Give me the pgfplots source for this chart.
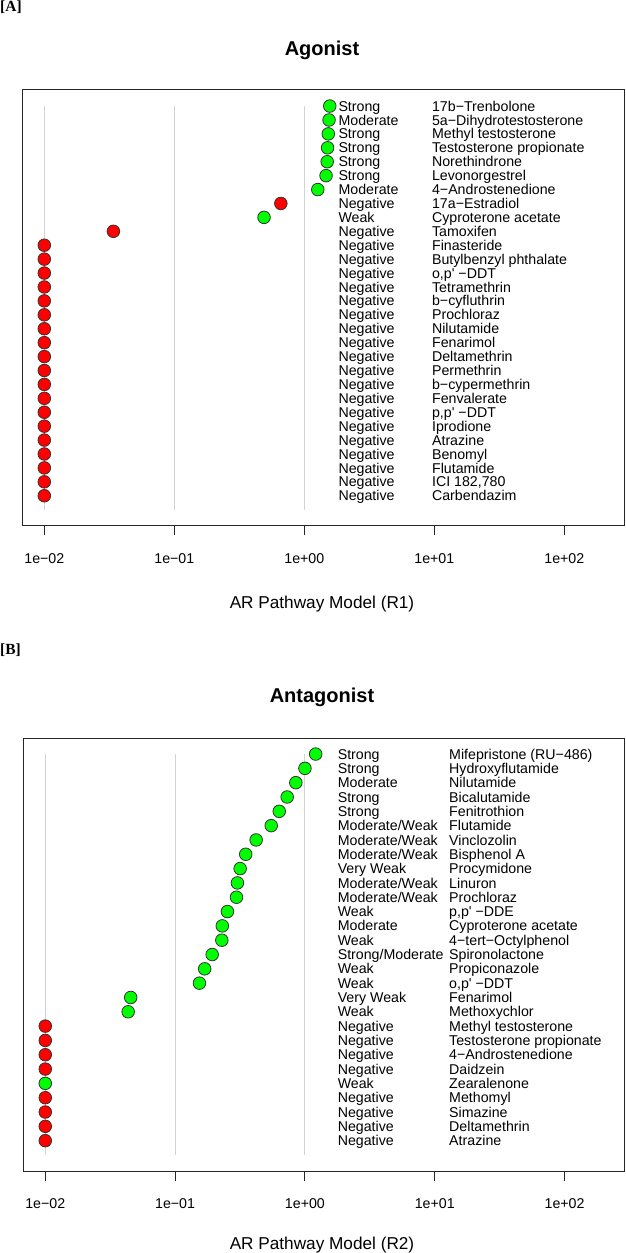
\documentclass[border=0pt]{standalone}
\usepackage{fontspec}
\setmainfont{Liberation Sans}
\newfontfamily\arial{Liberation Sans}
\newfontfamily\tnr{Liberation Serif}
\usepackage{pgfplots}
\pgfplotsset{compat=1.18}
\usepackage{pgfplotstable}

\definecolor{ptgreen}{RGB}{0,255,0}
\definecolor{ptred}{RGB}{255,0,0}
\definecolor{gridgray}{RGB}{211,211,211}

% y = row position (top row highest), val = model score, col = g/r
\pgfplotstableread[col sep=semicolon]{
y;val;col;status;name
29;1.57;g;Strong;17b−Trenbolone
28;1.55;g;Moderate;5a−Dihydrotestosterone
27;1.53;g;Strong;Methyl testosterone
26;1.51;g;Strong;Testosterone propionate
25;1.50;g;Strong;Norethindrone
24;1.47;g;Strong;Levonorgestrel
23;1.27;g;Moderate;4−Androstenedione
22;0.66;r;Negative;17a−Estradiol
21;0.49;g;Weak;Cyproterone acetate
20;0.034;r;Negative;Tamoxifen
19;0.01;r;Negative;Finasteride
18;0.01;r;Negative;Butylbenzyl phthalate
17;0.01;r;Negative;o,p' −DDT
16;0.01;r;Negative;Tetramethrin
15;0.01;r;Negative;b−cyfluthrin
14;0.01;r;Negative;Prochloraz
13;0.01;r;Negative;Nilutamide
12;0.01;r;Negative;Fenarimol
11;0.01;r;Negative;Deltamethrin
10;0.01;r;Negative;Permethrin
9;0.01;r;Negative;b−cypermethrin
8;0.01;r;Negative;Fenvalerate
7;0.01;r;Negative;p,p' −DDT
6;0.01;r;Negative;Iprodione
5;0.01;r;Negative;Atrazine
4;0.01;r;Negative;Benomyl
3;0.01;r;Negative;Flutamide
2;0.01;r;Negative;ICI 182,780
1;0.01;r;Negative;Carbendazim
}\tabA

\pgfplotstableread[col sep=semicolon]{
y;val;col;status;name
28;1.21;g;Strong;Mifepristone (RU−486)
27;1.00;g;Strong;Hydroxyflutamide
26;0.851;g;Moderate;Nilutamide
25;0.730;g;Strong;Bicalutamide
24;0.634;g;Strong;Fenitrothion
23;0.550;g;Moderate/Weak;Flutamide
22;0.421;g;Moderate/Weak;Vinclozolin
21;0.350;g;Moderate/Weak;Bisphenol A
20;0.317;g;Very Weak;Procymidone
19;0.302;g;Moderate/Weak;Linuron
18;0.297;g;Moderate/Weak;Prochloraz
17;0.253;g;Weak;p,p' −DDE
16;0.231;g;Moderate;Cyproterone acetate
15;0.229;g;Weak;4−tert−Octylphenol
14;0.193;g;Strong/Moderate;Spironolactone
13;0.169;g;Weak;Propiconazole
12;0.154;g;Weak;o,p' −DDT
11;0.0455;g;Very Weak;Fenarimol
10;0.0435;g;Weak;Methoxychlor
9;0.01;r;Negative;Methyl testosterone
8;0.01;r;Negative;Testosterone propionate
7;0.01;r;Negative;4−Androstenedione
6;0.01;r;Negative;Daidzein
5;0.01;g;Weak;Zearalenone
4;0.01;r;Negative;Methomyl
3;0.01;r;Negative;Simazine
2;0.01;r;Negative;Deltamethrin
1;0.01;r;Negative;Atrazine
}\tabB

\begin{document}
\begin{tikzpicture}
\useasboundingbox (0pt,0pt) rectangle (625pt,-1253pt);

% ---- panel A
\node[anchor=west, inner sep=0pt, font=\tnr\bfseries\fontsize{15.5}{17}\selectfont] at (0pt,-7.5pt) {[A]};
\node[anchor=base, font=\arial\bfseries\fontsize{20}{24}\selectfont] at (322pt,-55.5pt) {Agonist};
\node[anchor=base, font=\arial\fontsize{17.2}{20}\selectfont] at (322pt,-608pt) {AR Pathway Model (R1)};

\begin{axis}[scale only axis, anchor=north west, at={(22.3pt,-89.9pt)},
    width=602pt, height=435.9pt, ymin=-1.16, ymax=30.16,
    xmode=log, xmin=0.006773, xmax=289.4,
    xtick={0.01,0.1,1,10,100},
    xticklabels={1e−02,1e−01,1e+00,1e+01,1e+02},
    minor tick length=0pt,
    xtick pos=left, xtick align=outside,
    major tick length=9.5pt, ytick=\empty,
    axis line style={line width=1pt, black!85},
    every tick/.style={line width=1pt, black!85},
    xticklabel style={font=\arial\fontsize{14.2}{16}\selectfont, inner sep=0pt,
      text height=10.2pt, text depth=0pt, yshift=-18pt},
    clip=false]
  \addplot[gridgray, line width=1pt] coordinates {(0.01,0) (0.01,29)};
  \addplot[gridgray, line width=1pt] coordinates {(0.1,0) (0.1,29)};
  \addplot[gridgray, line width=1pt] coordinates {(1,0) (1,29)};
  \addplot[scatter, only marks, scatter src=explicit symbolic, mark size=6.3pt,
    mark options={line width=0.8pt},
    scatter/classes={g={mark=*, draw=black!80, fill=ptgreen}, r={mark=*, draw=black!80, fill=ptred}}]
    table[x=val, y=y, meta=col] {\tabA};
  \addplot[draw=none, point meta=explicit symbolic, nodes near coords,
    nodes near coords style={anchor=west, inner sep=0pt, text height=10.2pt,
      text depth=0pt, font=\arial\fontsize{14.2}{16}\selectfont, black}]
    table[x expr=1.827, y=y, meta=status] {\tabA};
  \addplot[draw=none, point meta=explicit symbolic, nodes near coords,
    nodes near coords style={anchor=west, inner sep=0pt, text height=10.2pt,
      text depth=0pt, font=\arial\fontsize{14.2}{16}\selectfont, black}]
    table[x expr=9.58, y=y, meta=name] {\tabA};
\end{axis}

% ---- panel B
\node[anchor=west, inner sep=0pt, font=\tnr\bfseries\fontsize{15.5}{17}\selectfont] at (0pt,-650pt) {[B]};
\node[anchor=base, font=\arial\bfseries\fontsize{20}{24}\selectfont] at (322pt,-702.5pt) {Antagonist};
\node[anchor=base, font=\arial\fontsize{17.2}{20}\selectfont] at (322pt,-1249pt) {AR Pathway Model (R2)};

\begin{axis}[scale only axis, anchor=north west, at={(23.3pt,-738pt)},
    width=601.2pt, height=433pt, ymin=-1.12, ymax=29.12,
    xmode=log, xmin=0.006773, xmax=289.4,
    xtick={0.01,0.1,1,10,100},
    xticklabels={1e−02,1e−01,1e+00,1e+01,1e+02},
    minor tick length=0pt,
    xtick pos=left, xtick align=outside,
    major tick length=9.5pt, ytick=\empty,
    axis line style={line width=1pt, black!85},
    every tick/.style={line width=1pt, black!85},
    xticklabel style={font=\arial\fontsize{14.2}{16}\selectfont, inner sep=0pt,
      text height=10.2pt, text depth=0pt, yshift=-18pt},
    clip=false]
  \addplot[gridgray, line width=1pt] coordinates {(0.01,0) (0.01,28)};
  \addplot[gridgray, line width=1pt] coordinates {(0.1,0) (0.1,28)};
  \addplot[gridgray, line width=1pt] coordinates {(1,0) (1,28)};
  \addplot[scatter, only marks, scatter src=explicit symbolic, mark size=6.3pt,
    mark options={line width=0.8pt},
    scatter/classes={g={mark=*, draw=black!80, fill=ptgreen}, r={mark=*, draw=black!80, fill=ptred}}]
    table[x=val, y=y, meta=col] {\tabB};
  \addplot[draw=none, point meta=explicit symbolic, nodes near coords,
    nodes near coords style={anchor=west, inner sep=0pt, text height=10.2pt,
      text depth=0pt, font=\arial\fontsize{14.2}{16}\selectfont, black}]
    table[x expr=1.785, y=y, meta=status] {\tabB};
  \addplot[draw=none, point meta=explicit symbolic, nodes near coords,
    nodes near coords style={anchor=west, inner sep=0pt, text height=10.2pt,
      text depth=0pt, font=\arial\fontsize{14.2}{16}\selectfont, black}]
    table[x expr=12.88, y=y, meta=name] {\tabB};
\end{axis}
\end{tikzpicture}
\end{document}
